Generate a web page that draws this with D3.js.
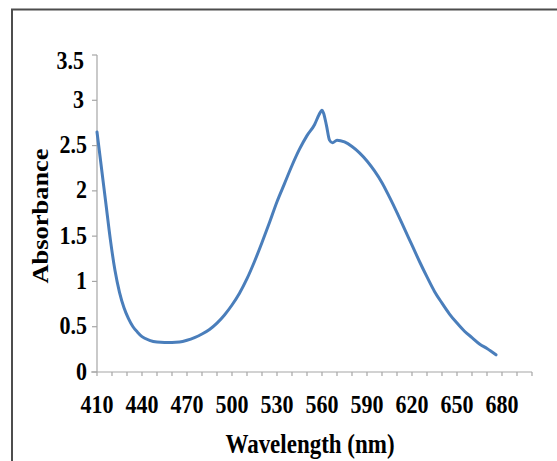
<!DOCTYPE html>
<html>
<head>
<meta charset="utf-8">
<script src="https://cdn.jsdelivr.net/npm/d3@7"></script>
<style>
  html, body { margin: 0; padding: 0; background: #fff; }
  svg { display: block; }
  text { font-family: "Liberation Serif", "Times New Roman", serif; font-weight: bold; fill: #000; }
</style>
</head>
<body>
<svg id="chart" width="557" height="461"></svg>
<script>
// Absorption spectrum: wavelength (nm) and absorbance
const wavelengths = [410, 413, 416, 419, 422, 425, 428, 431, 434, 437, 440, 445, 450, 455, 460, 465, 470, 475, 480, 485, 490, 495, 500, 505, 510, 515, 520, 525, 530, 535, 540, 545, 550, 555, 558, 560, 561, 563, 565, 567, 570, 575, 580, 585, 590, 595, 600, 605, 610, 615, 620, 625, 630, 635, 640, 645, 650, 655, 660, 665, 670, 676];
const absorbance  = [2.65, 2.25, 1.85, 1.45, 1.12, 0.88, 0.71, 0.59, 0.50, 0.44, 0.39, 0.35, 0.33, 0.325, 0.325, 0.33, 0.35, 0.38, 0.42, 0.47, 0.54, 0.63, 0.74, 0.87, 1.03, 1.22, 1.43, 1.65, 1.88, 2.08, 2.28, 2.46, 2.61, 2.73, 2.84, 2.89, 2.86, 2.72, 2.56, 2.53, 2.56, 2.54, 2.49, 2.42, 2.33, 2.22, 2.09, 1.93, 1.76, 1.58, 1.40, 1.22, 1.05, 0.89, 0.76, 0.64, 0.54, 0.45, 0.38, 0.31, 0.26, 0.19];

const xTickLabels = [410, 440, 470, 500, 530, 560, 590, 620, 650, 680];
const xMinorTicks = d3.range(410, 701, 10);
const yTickValues = [0, 0.5, 1, 1.5, 2, 2.5, 3, 3.5];

const svg = d3.select("#chart");
const stretch = 1.15; // vertical stretch applied to all lettering

// outer frame (top and left edges)
svg.append("path")
  .attr("d", "M12,461V9.5H557")
  .attr("fill", "none")
  .attr("stroke", "#4d4d4d")
  .attr("stroke-width", 2);

const x = d3.scaleLinear().domain([410, 700]).range([97, 532]);
const y = d3.scaleLinear().domain([0, 3.5]).range([372, 55]);

const axisColor = "#a6a6a6";

// y axis
svg.append("line")
  .attr("x1", x(410)).attr("x2", x(410))
  .attr("y1", y(0)).attr("y2", y(3.5))
  .attr("stroke", axisColor).attr("stroke-width", 1.2);
svg.selectAll(".ytick").data(yTickValues).join("line")
  .attr("x1", x(410) - 5).attr("x2", x(410))
  .attr("y1", d => y(d)).attr("y2", d => y(d))
  .attr("stroke", axisColor).attr("stroke-width", 1.2);
// the top label sits just below the axis end so it stays inside the plot box
svg.selectAll(".ylab").data(yTickValues).join("text")
  .attr("text-anchor", "end")
  .attr("font-size", 22)
  .attr("transform", d => `translate(${d >= 3 ? 84 : 87},${y(d) + 7.5 + (d === 3.5 ? 6 : 0)}) scale(1,${stretch})`)
  .text(d => d);

// x axis
svg.append("line")
  .attr("x1", x(410) - 6).attr("x2", x(700))
  .attr("y1", y(0)).attr("y2", y(0))
  .attr("stroke", axisColor).attr("stroke-width", 1.2);
svg.selectAll(".xtick").data(xMinorTicks).join("line")
  .attr("x1", d => x(d)).attr("x2", d => x(d))
  .attr("y1", y(0)).attr("y2", y(0) + 4)
  .attr("stroke", axisColor).attr("stroke-width", 1.2);
svg.selectAll(".xlab").data(xTickLabels).join("text")
  .attr("text-anchor", "middle")
  .attr("font-size", 22)
  .attr("transform", d => `translate(${x(d)},413) scale(1,${stretch})`)
  .text(d => d);

// axis titles
svg.append("text")
  .attr("text-anchor", "middle")
  .attr("font-size", 23)
  .attr("transform", `translate(310,453) scale(1,${stretch})`)
  .text("Wavelength (nm)");
svg.append("text")
  .attr("text-anchor", "middle")
  .attr("font-size", 23)
  .attr("transform", `translate(48,216) scale(1,${stretch}) rotate(-90)`)
  .text("Absorbance");

// spectrum line
const pts = wavelengths.map((w, i) => [w, absorbance[i]]);
svg.append("path")
  .datum(pts)
  .attr("fill", "none")
  .attr("stroke", "#4a7ebb")
  .attr("stroke-width", 3)
  .attr("stroke-linejoin", "round")
  .attr("stroke-linecap", "round")
  .attr("d", d3.line().x(d => x(d[0])).y(d => y(d[1])).curve(d3.curveMonotoneX));
</script>
</body>
</html>
